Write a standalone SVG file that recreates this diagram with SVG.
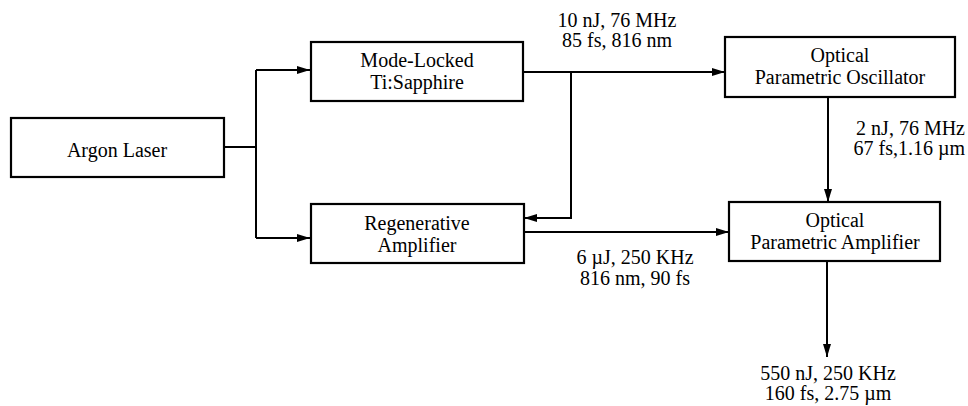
<svg xmlns="http://www.w3.org/2000/svg" width="968" height="406" viewBox="0 0 968 406">
<style>
.box{fill:#fff;stroke:#000;stroke-width:2.2}
.t{font-family:"Liberation Serif","Times New Roman",serif;font-size:20px;fill:#000;text-anchor:middle}
.e{text-anchor:end}
.c{fill:none;stroke:#000;stroke-width:2}
</style>
<defs>
<marker id="ah" markerWidth="14" markerHeight="10" refX="13" refY="5" orient="auto" markerUnits="userSpaceOnUse">
<path d="M0,1 L13,5 L0,9 Z" fill="#000"/>
</marker>
</defs>
<rect width="968" height="406" fill="#fff"/>
<g id="connectors">
<path class="c" d="M224,147 H256"/>
<path class="c" d="M256,70 V238"/>
<path class="c" d="M256,70 H310" marker-end="url(#ah)"/>
<path class="c" d="M256,238 H310" marker-end="url(#ah)"/>
<path class="c" d="M523,72 H725" marker-end="url(#ah)"/>
<path class="c" d="M571,72 V218 H524" marker-end="url(#ah)"/>
<path class="c" d="M524,232 H729" marker-end="url(#ah)"/>
<path class="c" d="M828,97 V202" marker-end="url(#ah)"/>
<path class="c" d="M827,261 V357" marker-end="url(#ah)"/>
</g>
<g id="argon">
<rect class="box" x="11" y="118" width="213" height="59"/>
<text class="t" x="117" y="157">Argon Laser</text>
</g>
<g id="modelocked">
<rect class="box" x="311" y="42" width="212" height="59"/>
<text class="t" x="417" y="67">Mode-Locked</text>
<text class="t" x="417" y="89">Ti:Sapphire</text>
</g>
<g id="regen">
<rect class="box" x="311" y="204" width="213" height="59"/>
<text class="t" x="417" y="230">Regenerative</text>
<text class="t" x="417" y="252">Amplifier</text>
</g>
<g id="opo">
<rect class="box" x="725" y="37" width="230" height="60"/>
<text class="t" x="840" y="62">Optical</text>
<text class="t" x="840" y="84">Parametric Oscillator</text>
</g>
<g id="opa">
<rect class="box" x="729" y="202" width="211" height="59"/>
<text class="t" x="835" y="227">Optical</text>
<text class="t" x="835" y="249">Parametric Amplifier</text>
</g>
<g id="labels">
<text class="t" x="617" y="27">10 nJ, 76 MHz</text>
<text class="t" x="617" y="47">85 fs, 816 nm</text>
<text class="t e" x="965" y="135">2 nJ, 76 MHz</text>
<text class="t e" x="965" y="155">67 fs,1.16 µm</text>
<text class="t" x="635" y="264">6 µJ, 250 KHz</text>
<text class="t" x="635" y="285">816 nm, 90 fs</text>
<text class="t" x="828" y="380">550 nJ, 250 KHz</text>
<text class="t" x="828" y="400">160 fs, 2.75 µm</text>
</g>
</svg>
